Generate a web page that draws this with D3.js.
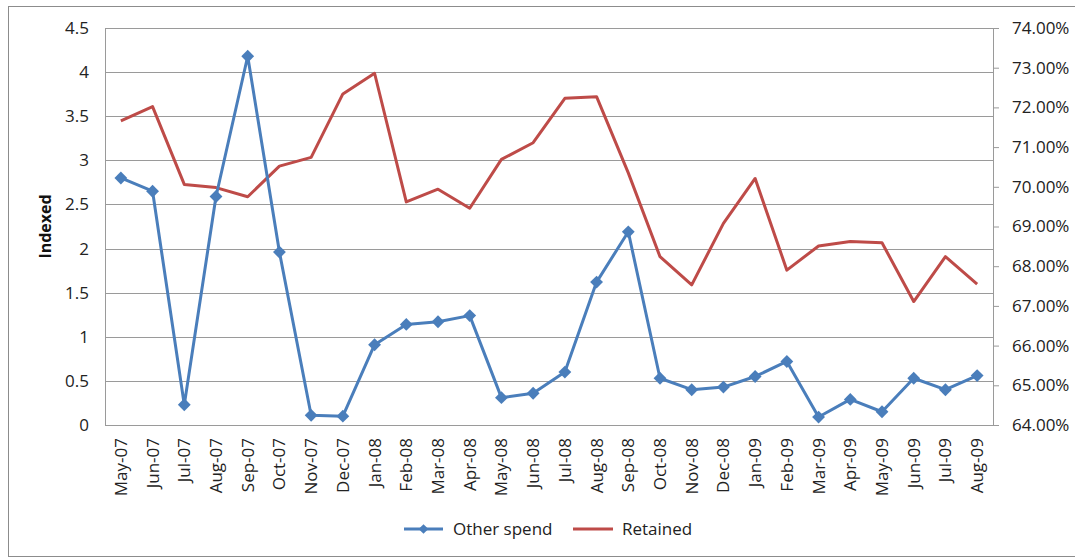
<!DOCTYPE html>
<html><head><meta charset="utf-8">
<script src="https://cdn.jsdelivr.net/npm/d3@7"></script>
<style>body{margin:0;background:#fff;} svg{display:block;font-family:"Open Sans",sans-serif;}</style>
</head><body>
<svg id="c" width="1075" height="558"></svg>
<script>
const months = ["May-07","Jun-07","Jul-07","Aug-07","Sep-07","Oct-07","Nov-07","Dec-07","Jan-08","Feb-08","Mar-08","Apr-08","May-08","Jun-08","Jul-08","Aug-08","Sep-08","Oct-08","Nov-08","Dec-08","Jan-09","Feb-09","Mar-09","Apr-09","May-09","Jun-09","Jul-09","Aug-09"];
const otherSpend = [2.80,2.65,0.23,2.59,4.18,1.96,0.11,0.10,0.91,1.14,1.17,1.24,0.31,0.36,0.60,1.62,2.19,0.53,0.40,0.43,0.55,0.72,0.09,0.29,0.15,0.53,0.40,0.56];
const retained = [71.66,72.02,70.06,69.98,69.75,70.52,70.74,72.34,72.86,69.62,69.94,69.46,70.69,71.11,72.23,72.27,70.35,68.24,67.53,69.08,70.21,67.90,68.51,68.62,68.59,67.11,68.24,67.55];
const leftTicks = [0,0.5,1,1.5,2,2.5,3,3.5,4,4.5];
const rightTicks = [64,65,66,67,68,69,70,71,72,73,74];
const seriesNames = ["Other spend","Retained"];

const svg = d3.select("#c");
const M = {l:105, r:993, t:28, b:425};
const blue = "#4a7ebb", red = "#be4b48", grid = "#9a9a9a";
const FS = 17;

svg.append("rect").attr("x",8.5).attr("y",6.5).attr("width",1080).attr("height",550)
  .attr("fill","#fff").attr("stroke","#8c8c8c").attr("stroke-width",1);

const x = d3.scaleBand().domain(months).range([M.l, M.r]);
const yL = d3.scaleLinear().domain([0,4.5]).range([M.b, M.t]);
const yR = d3.scaleLinear().domain([64,74]).range([M.b, M.t]);

// gridlines
svg.append("g").selectAll("line").data(leftTicks).join("line")
  .attr("x1",M.l).attr("x2",M.r)
  .attr("y1",d=>Math.round(yL(d))+0.5).attr("y2",d=>Math.round(yL(d))+0.5)
  .attr("stroke",grid).attr("stroke-width",1);

// left axis
const gL = svg.append("g").attr("transform",`translate(${M.l},0)`)
  .call(d3.axisLeft(yL).tickValues(leftTicks).tickSize(0).tickPadding(16).tickFormat(d3.format("")));
gL.select(".domain").attr("stroke",grid);
gL.selectAll("text").attr("font-size",FS).attr("fill","#222").attr("font-family","'Open Sans',sans-serif");

// right axis
const gR = svg.append("g").attr("transform",`translate(${M.r},0)`)
  .call(d3.axisRight(yR).tickValues(rightTicks).tickSize(6).tickPadding(13).tickFormat(d=>d.toFixed(2)+"%"));
gR.select(".domain").attr("stroke",grid);
gR.selectAll("line").attr("stroke",grid);
gR.selectAll("text").attr("font-size",FS).attr("fill","#222").attr("font-family","'Open Sans',sans-serif");

// x axis
const gX = svg.append("g").attr("transform",`translate(0,${M.b})`)
  .call(d3.axisBottom(x).tickSize(0).tickPadding(0));
gX.select(".domain").remove();
gX.selectAll("text").attr("font-size",FS).attr("fill","#222").attr("font-family","'Open Sans',sans-serif")
  .attr("text-anchor","end").attr("dy",null)
  .attr("transform","translate(6,13) rotate(-90)");

// y title
svg.append("text").attr("transform",`translate(51,${(M.t+M.b)/2}) rotate(-90)`)
  .attr("text-anchor","middle").attr("font-size",16).attr("font-weight","bold").attr("fill","#111")
  .text("Indexed");

const cx = d => x(d) + x.bandwidth()/2;

// retained line
svg.append("path").datum(retained)
  .attr("d", d3.line().x((d,i)=>cx(months[i])).y(d=>yR(d)))
  .attr("fill","none").attr("stroke",red).attr("stroke-width",3).attr("stroke-linejoin","round");

// other spend line
svg.append("path").datum(otherSpend)
  .attr("d", d3.line().x((d,i)=>cx(months[i])).y(d=>yL(d)))
  .attr("fill","none").attr("stroke",blue).attr("stroke-width",3).attr("stroke-linejoin","round");

const diamond = d3.symbol().type(d3.symbolDiamond2).size(105);
svg.append("g").selectAll("path").data(otherSpend).join("path")
  .attr("d", diamond)
  .attr("transform",(d,i)=>`translate(${cx(months[i])},${yL(d)})`)
  .attr("fill",blue);

// legend
const lg = svg.append("g").attr("transform","translate(0,529)");
lg.append("line").attr("x1",404).attr("x2",443).attr("y1",0).attr("y2",0).attr("stroke",blue).attr("stroke-width",3);
lg.append("path").attr("d",d3.symbol().type(d3.symbolDiamond2).size(60)).attr("transform","translate(423.5,0)").attr("fill",blue);
lg.append("text").attr("x",453).attr("y",6).attr("font-size",FS).attr("fill","#222").text(seriesNames[0]);
lg.append("line").attr("x1",573).attr("x2",613).attr("y1",0).attr("y2",0).attr("stroke",red).attr("stroke-width",3);
lg.append("text").attr("x",622).attr("y",6).attr("font-size",FS).attr("fill","#222").text(seriesNames[1]);
</script>
</body></html>
